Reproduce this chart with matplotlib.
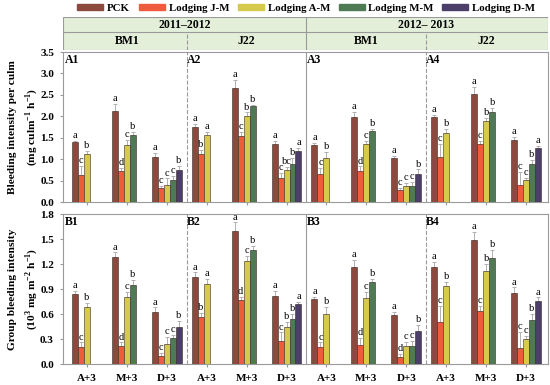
import matplotlib.pyplot as plt
import numpy as np
from matplotlib.patches import Rectangle

plt.rcParams['font.family'] = ['Liberation Serif', 'DejaVu Serif']
plt.rcParams['mathtext.fontset'] = 'custom'
plt.rcParams['mathtext.rm'] = 'Liberation Serif'
plt.rcParams['mathtext.bf'] = 'Liberation Serif:bold'

nan = np.nan
groups = ['A+3', 'M+3', 'D+3']
years = ['2011\u20132012', '2012\u2013 2013']
varieties = ['BM1', 'J22', 'BM1', 'J22']
series = ['PCK', 'Lodging J-M', 'Lodging A-M', 'Lodging M-M', 'Lodging D-M']
colors = ['#8c4a3f', '#ee5b3d', '#d5ca4c', '#4f7b54', '#4b3f6a']

# top row: bleeding intensity per culm, 12 groups (4 sections x A+3, M+3, D+3)
culm_pck = [1.40, 2.13, 1.04, 1.74, 2.65, 1.35, 1.33, 1.98, 1.02, 1.98, 2.53, 1.44]
culm_jm = [0.64, 0.72, 0.32, 1.12, 1.55, 0.57, 0.65, 0.73, 0.27, 1.05, 1.35, 0.40]
culm_am = [1.12, 1.33, 0.40, 1.56, 2.01, 0.74, 1.02, 1.35, 0.37, 1.60, 1.89, 0.51]
culm_mm = [nan, 1.57, 0.51, nan, 2.24, 0.88, nan, 1.66, 0.37, nan, 2.10, 0.88]
culm_dm = [nan, nan, 0.75, nan, nan, 1.19, nan, nan, 0.66, nan, nan, 1.25]

culm_err_pck = [0.03, 0.15, 0.10, 0.08, 0.20, 0.08, 0.05, 0.12, 0.06, 0.05, 0.15, 0.08]
culm_err_jm = [0.20, 0.08, 0.05, 0.10, 0.08, 0.10, 0.15, 0.10, 0.05, 0.30, 0.08, 0.30]
culm_err_am = [0.08, 0.12, 0.15, 0.08, 0.08, 0.08, 0.15, 0.08, 0.08, 0.10, 0.08, 0.05]
culm_err_mm = [nan, 0.07, 0.10, nan, 0.03, 0.15, nan, 0.05, 0.10, nan, 0.10, 0.10]
culm_err_dm = [nan, nan, 0.10, nan, nan, 0.08, nan, nan, 0.10, nan, nan, 0.06]

culm_let_pck = ['a'] * 12
culm_let_jm = ['c', 'd', 'c', 'b', 'c', 'c', 'c', 'd', 'c', 'c', 'c', 'c']
culm_let_am = ['b', 'c', 'c', 'a', 'b', 'bc', 'b', 'c', 'c', 'b', 'b', 'c']
culm_let_mm = ['', 'b', 'c', '', 'b', 'b', '', 'b', 'c', '', 'b', 'b']
culm_let_dm = ['', '', 'b', '', '', 'a', '', '', 'b', '', '', 'a']

# bottom row: group bleeding intensity
grp_pck = [0.84, 1.28, 0.62, 1.05, 1.60, 0.82, 0.78, 1.16, 0.59, 1.17, 1.49, 0.85]
grp_jm = [0.20, 0.22, 0.10, 0.56, 0.77, 0.28, 0.21, 0.23, 0.09, 0.50, 0.64, 0.19]
grp_am = [0.68, 0.81, 0.24, 0.96, 1.24, 0.45, 0.60, 0.79, 0.22, 0.94, 1.12, 0.30]
grp_mm = [nan, 0.95, 0.31, nan, 1.37, 0.54, nan, 0.99, 0.22, nan, 1.27, 0.53]
grp_dm = [nan, nan, 0.44, nan, nan, 0.72, nan, nan, 0.40, nan, nan, 0.76]

grp_err_pck = [0.04, 0.06, 0.06, 0.05, 0.10, 0.06, 0.03, 0.09, 0.04, 0.06, 0.10, 0.07]
grp_err_jm = [0.06, 0.04, 0.03, 0.05, 0.04, 0.10, 0.05, 0.08, 0.03, 0.20, 0.06, 0.20]
grp_err_am = [0.05, 0.06, 0.09, 0.06, 0.06, 0.06, 0.09, 0.08, 0.05, 0.05, 0.08, 0.04]
grp_err_mm = [nan, 0.06, 0.04, nan, 0.05, 0.06, nan, 0.03, 0.06, nan, 0.10, 0.07]
grp_err_dm = [nan, nan, 0.08, nan, nan, 0.03, nan, nan, 0.07, nan, nan, 0.04]

grp_let_pck = ['a'] * 12
grp_let_jm = ['c', 'd', 'c', 'b', 'd', 'c', 'c', 'd', 'd', 'c', 'c', 'c']
grp_let_am = ['b', 'c', 'c', 'a', 'c', 'b', 'b', 'c', 'c', 'b', 'b', 'c']
grp_let_mm = ['', 'b', 'c', '', 'b', 'b', '', 'b', 'c', '', 'b', 'b']
grp_let_dm = ['', '', 'b', '', '', 'a', '', '', 'b', '', '', 'a']

culm_vals = [culm_pck, culm_jm, culm_am, culm_mm, culm_dm]
culm_errs = [culm_err_pck, culm_err_jm, culm_err_am, culm_err_mm, culm_err_dm]
culm_lets = [culm_let_pck, culm_let_jm, culm_let_am, culm_let_mm, culm_let_dm]
grp_vals = [grp_pck, grp_jm, grp_am, grp_mm, grp_dm]
grp_errs = [grp_err_pck, grp_err_jm, grp_err_am, grp_err_mm, grp_err_dm]
grp_lets = [grp_let_pck, grp_let_jm, grp_let_am, grp_let_mm, grp_let_dm]

fig = plt.figure(figsize=(5.5, 3.85), dpi=100)
L, W = 0.1145, 0.8818
axA = fig.add_axes([L, 0.4753, W, 0.3896])
axB = fig.add_axes([L, 0.0545, W, 0.3896])

xc = np.arange(12) + 0.5
bw = 0.15
xlim = (-0.1, 12.05)
grey = '#9a9a9a'


def draw(ax, vals, errs, lets, ymax, step, tag, off):
    for k in range(5):
        x = xc + (k - 2) * bw
        v = np.array(vals[k], dtype=float)
        e = np.array(errs[k], dtype=float)
        ax.bar(x, v, bw, color=colors[k], edgecolor='#3a2a25', linewidth=0.4, zorder=3)
        ax.errorbar(x, v, yerr=[np.zeros(12), e], fmt='none', ecolor='#b0b0b0',
                    elinewidth=0.7, capsize=1.6, capthick=0.7, zorder=2)
        for i in range(12):
            if lets[k][i]:
                ax.text(x[i], v[i] + e[i] + off, lets[k][i], ha='center', va='bottom',
                        fontsize=7.5, zorder=4)
    ax.set_xlim(*xlim)
    ax.set_ylim(0, ymax)
    ax.set_yticks(np.arange(0, ymax + 0.001, step))
    ax.set_yticklabels(['%.1f' % t for t in np.arange(0, ymax + 0.001, step)],
                       fontweight='bold', fontsize=8)
    ax.set_xticks(xc)
    ax.axvline(3, color=grey, ls='--', lw=0.8, zorder=1)
    ax.axvline(6, color=grey, ls='-', lw=0.8, zorder=1)
    ax.axvline(9, color=grey, ls='--', lw=0.8, zorder=1)
    for s in ax.spines.values():
        s.set_color(grey)
        s.set_linewidth(0.8)
    ax.tick_params(axis='both', direction='out', length=2.5, color=grey, pad=4)
    for j in range(4):
        ax.text(j * 3 + (0.0 if j else -0.05), ymax * 0.985, '%s%d' % (tag, j + 1),
                ha='left', va='top', fontsize=8.5, fontweight='bold')


draw(axA, culm_vals, culm_errs, culm_lets, 3.5, 0.5, 'A', 0.02)
draw(axB, grp_vals, grp_errs, grp_lets, 1.8, 0.3, 'B', 0.01)
axA.set_xticklabels([])
axB.set_xticklabels(groups * 4, fontweight='bold', fontsize=8)
axB.tick_params(axis='x', pad=5)

axA.set_ylabel('Bleeding intensity per culm\n(mg culm$^{\\mathbf{-1}}$ h$^{\\mathbf{-1}}$)',
               fontweight='bold', fontsize=8.2, linespacing=1.6)
axB.set_ylabel('Group bleeding intensity\n(10$^{\\mathbf{3}}$ mg m$^{\\mathbf{-2}}$ h$^{\\mathbf{-1}}$)',
               fontweight='bold', fontsize=8.2, linespacing=1.6)
axA.yaxis.set_label_coords(-0.047, 0.5)
axB.yaxis.set_label_coords(-0.047, 0.5)

# header boxes
axH = fig.add_axes([L, 1 - 50 / 385, W, 33 / 385])
axH.set_xlim(*xlim)
axH.set_ylim(0, 33)
axH.axis('off')
hfill = '#e3efd9'
axH.add_patch(Rectangle((xlim[0], 0), xlim[1] - xlim[0], 33, facecolor=hfill,
                        edgecolor=grey, lw=0.8))
axH.plot(xlim, [18, 18], color=grey, lw=0.8)
axH.plot([6, 6], [0, 33], color=grey, lw=0.8)
axH.plot([3, 3], [0, 18], color=grey, lw=0.8, ls='--')
axH.plot([9, 9], [0, 18], color=grey, lw=0.8, ls='--')
for j, yr in enumerate(years):
    axH.text(j * 6 + (2.95 if j == 0 else 3.0), 25.5, yr, ha='center', va='center',
             fontsize=8.5, fontweight='bold')
for j, vr in enumerate(varieties):
    axH.text(j * 3 + 1.5, 9, vr, ha='center', va='center', fontsize=8.5, fontweight='bold')

handles = [Rectangle((0, 0), 1, 1, color=c) for c in colors]
fig.legend(handles, series, loc='upper center', bbox_to_anchor=(0.557, 1.012), ncol=5,
           frameon=False, prop={'weight': 'bold', 'size': 7.8}, handlelength=2.4,
           handleheight=0.5, columnspacing=0.8, handletextpad=0.35, borderpad=0.3)

fig.savefig('out.png', dpi=100)
